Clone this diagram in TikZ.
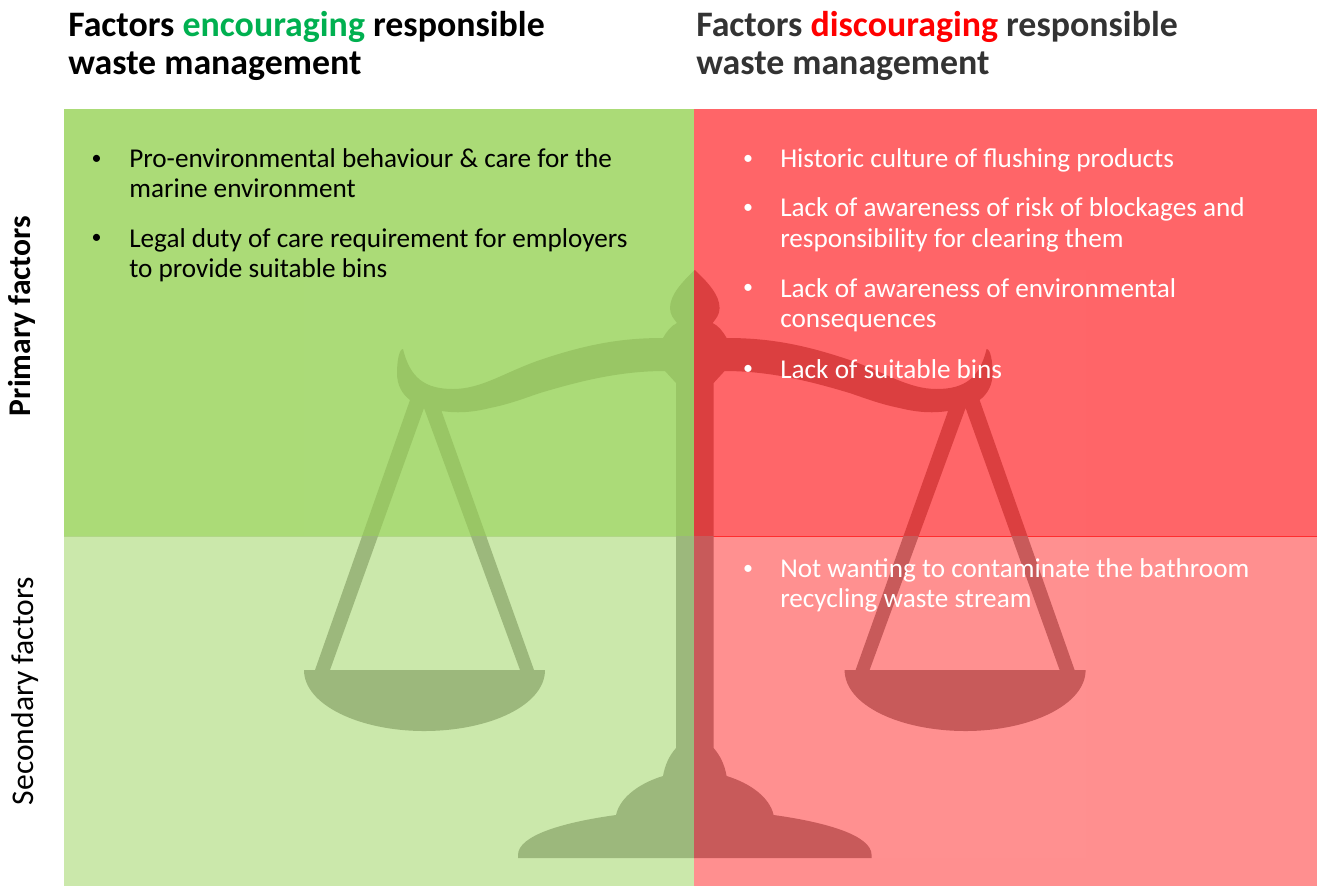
\documentclass[tikz,border=0pt]{standalone}
\usepackage{fontspec}
\setmainfont{Carlito}
\definecolor{gA}{HTML}{ABDB77}
\definecolor{gB}{HTML}{CBE8AB}
\definecolor{rA}{HTML}{FF6568}
\definecolor{rB}{HTML}{FF8F8F}
\definecolor{sgA}{HTML}{99C665}
\definecolor{sgB}{HTML}{9CB87C}
\definecolor{srA}{HTML}{DB3F40}
\definecolor{srB}{HTML}{C85A5A}
\definecolor{hgreen}{HTML}{00B050}
\definecolor{hdark}{HTML}{333333}
\newcommand{\halfscale}{%
 (694.8,270) .. controls (682,282) and (670,295) .. (670,308)
 .. controls (670,315) and (674,319) .. (677,323)
 .. controls (671,326) and (667,331) .. (663,338)
 .. controls (625,338) and (590,343) .. (540,360)
 .. controls (505,372) and (482,389) .. (453,389)
 .. controls (425,389) and (410,378) .. (403,349)
 .. controls (399,349) and (397,362) .. (397,373)
 .. controls (397,385) and (402,394) .. (410,400)
 -- (315,670) -- (304,670)
 .. controls (304,705) and (360,731) .. (424,731)
 .. controls (490,731) and (545,705) .. (545,670)
 -- (534,670) -- (441.5,411)
 .. controls (455,413) and (470,413) .. (490,408)
 .. controls (510,404) and (525,398) .. (540,393)
 .. controls (580,381) and (620,371) .. (665,371)
 -- (676,383) -- (676,748)
 .. controls (669,756) and (665,765) .. (663,776)
 .. controls (640,783) and (620,797) .. (616,815)
 .. controls (565,822) and (518,835) .. (518,855)
 -- (518,858) -- (694.8,858) -- cycle
 (424,408) -- (520,670) -- (330,670) -- cycle}
\newcommand{\fullscale}[1]{%
 \fill[#1,even odd rule] \halfscale;
 \begin{scope}[xshift=1389.6*0.75pt,xscale=-1]
 \fill[#1,even odd rule] \halfscale;
 \end{scope}}
\tikzset{
 hdr/.style={anchor=north west,inner sep=0pt,align=left,font=\fontsize{26.9}{28.8}\selectfont\bfseries},
 itm/.style={anchor=north west,inner sep=0pt,align=left,font=\fontsize{20.4}{22.95}\selectfont},
 bul/.style={inner sep=0pt,font=\fontsize{15}{22}\selectfont},
 side/.style={rotate=90,inner sep=0pt,font=\fontsize{23.7}{26}\selectfont}
}
\begin{document}
\begin{tikzpicture}[x=0.75pt,y=-0.75pt]
\useasboundingbox (0,0) rectangle (1320,886);
\fill[white] (0,0) rectangle (1320,886);
\fill[gA] (64,109) rectangle (694,536);
\fill[gB] (64,536) rectangle (694,886);
\fill[rA] (694,109) rectangle (1317,536);
\fill[rB] (694,536) rectangle (1317,886);
\fill[white,opacity=0.012] (304,270) rectangle (1086,858);
\draw[red!55!rA,line width=0.6pt] (694,536.5) -- (1317,536.5);
\draw[sgA,line width=0.4pt,opacity=0.5] (64,536) -- (694,536);
\begin{scope}\clip (64,109) rectangle (694,536); \fullscale{sgA} \end{scope}
\begin{scope}\clip (64,536) rectangle (694,886); \fullscale{sgB} \end{scope}
\begin{scope}\clip (694,109) rectangle (1317,536); \fullscale{srA} \end{scope}
\begin{scope}\clip (694,536) rectangle (1317,886); \fullscale{srB} \end{scope}

\node[hdr] (hl) at (68,11) {Factors \textcolor{hgreen}{encouraging} responsible\\waste management};
\node[hdr,text=hdark] (hr) at (696,11) {Factors \textcolor{red}{discouraging} responsible\\waste management};
\node[side,font=\fontsize{23.7}{26}\selectfont\bfseries] (p) at (22,316) {Primary factors};
\node[side] (s) at (25.5,691) {Secondary factors};

\node[bul] (b1) at (96.5,159.5) {•};
\node[itm] (t1) at (129,148) {Pro-environmental behaviour \& care for the\\marine environment};
\node[bul] (b2) at (96.5,239) {•};
\node[itm] (t2) at (129,228) {Legal duty of care requirement for employers\\to provide suitable bins};

\begin{scope}[every node/.append style={text=white}]
\node[bul] (b3) at (748,159.5) {•};
\node[itm] (t3) at (780,148) {Historic culture of flushing products};
\node[bul] (b4) at (748,209) {•};
\node[itm] (t4) at (780,197.5) {Lack of awareness of risk of blockages and\\responsibility for clearing them};
\node[bul] (b5) at (748,289) {•};
\node[itm] (t5) at (780,278) {Lack of awareness of environmental\\consequences};
\node[bul] (b6) at (748,370) {•};
\node[itm] (t6) at (780,359) {Lack of suitable bins};
\node[bul] (b7) at (748,569.5) {•};
\node[itm] (t7) at (780,558) {Not wanting to contaminate the bathroom\\recycling waste stream};
\end{scope}
\end{tikzpicture}
\end{document}
